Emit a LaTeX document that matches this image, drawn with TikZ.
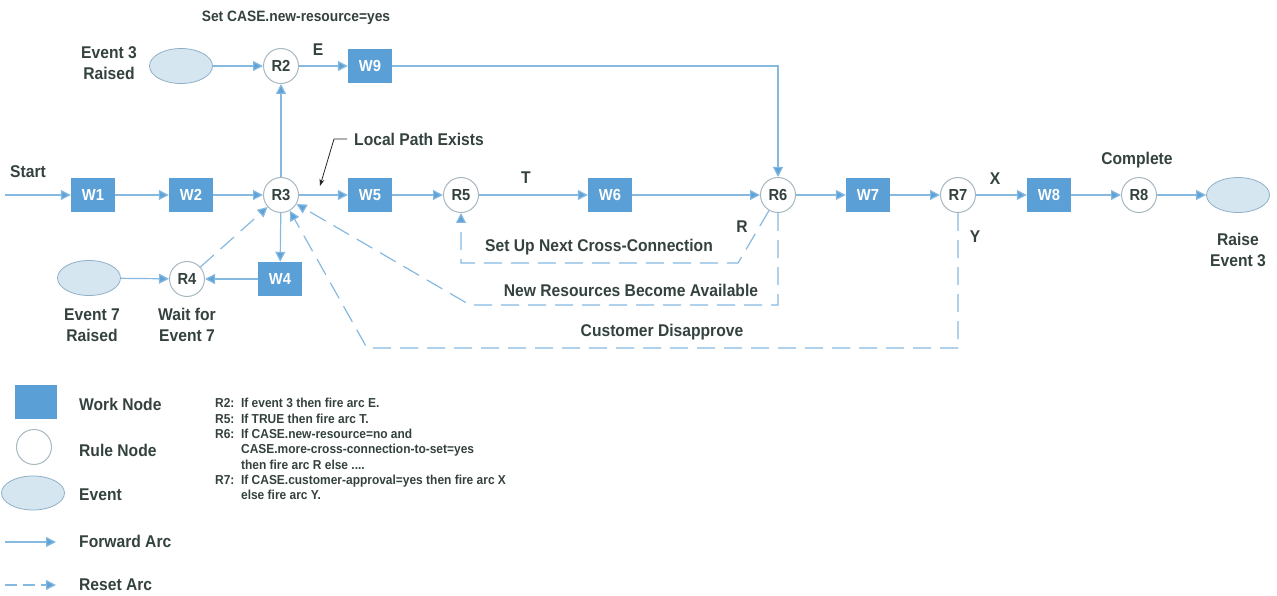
\documentclass[tikz,border=0pt]{standalone}
\usepackage{fontspec}
\setmainfont[FakeStretch=0.92]{Liberation Sans}
\usetikzlibrary{shapes.geometric,arrows.meta}
\definecolor{wblue}{HTML}{5A9FD6}
\definecolor{lblue}{HTML}{86B9E0}
\definecolor{ablue}{HTML}{5FA2D8}
\definecolor{rgray}{HTML}{A8B8C0}
\definecolor{efill}{HTML}{D5E6F1}
\definecolor{edraw}{HTML}{8FB0C6}
\definecolor{txt}{HTML}{34423F}
\tikzset{
  work/.style={rectangle, fill=wblue, minimum width=44pt, minimum height=34pt, inner sep=0pt, text=white, font=\fontsize{16}{18}\selectfont\bfseries},
  rule/.style={circle, draw=rgray, line width=1pt, fill=white, minimum size=35pt, inner sep=0pt, text=txt, font=\fontsize{16}{18}\selectfont\bfseries},
  event/.style={ellipse, fill=efill, draw=edraw, line width=0.8pt, minimum width=63pt, minimum height=35pt, inner sep=0pt},
  lbl/.style={text=txt, font=\fontsize{17}{21}\selectfont\bfseries, inner sep=0pt},
  fwd/.style={draw=lblue, line width=1.2pt, -{Triangle[length=10pt,width=10pt,fill=ablue]}},
  reset/.style={draw=lblue, line width=1.2pt, dash pattern=on 18pt off 9pt, -{Triangle[length=10pt,width=10pt,fill=ablue]}},
}
\begin{document}
\begin{tikzpicture}[x=1pt,y=-1pt]
\useasboundingbox (0,0) rectangle (1277,596);
% main row
\coordinate (st) at (5,195);
\node[work] (w1) at (93,195) {W1};
\node[work] (w2) at (191,195) {W2};
\node[rule] (r3) at (281,195) {R3};
\node[work] (w5) at (370,195) {W5};
\node[rule] (r5) at (461,195) {R5};
\node[work] (w6) at (610,195) {W6};
\node[rule] (r6) at (778,195) {R6};
\node[work] (w7) at (868,195) {W7};
\node[rule] (r7) at (958,195) {R7};
\node[work] (w8) at (1049,195) {W8};
\node[rule] (r8) at (1139,195) {R8};
\node[event] (ev3o) at (1238,195) {};
% top row
\node[event] (ev3) at (181,66) {};
\node[rule] (r2) at (281,66) {R2};
\node[work] (w9) at (370,66) {W9};
% bottom row
\node[event] (ev7) at (89,278) {};
\node[rule] (r4) at (187,279) {R4};
\node[work] (w4) at (280,279) {W4};
% labels
\node[lbl] (lstart) at (28,172) {Start};
\node[lbl, align=center] (lev3) at (109,63) {Event 3\\Raised};
\node[lbl, font=\fontsize{15}{17}\selectfont\bfseries] (lset) at (296,18) {Set CASE.new-resource=yes};
\node[lbl] (lE) at (318,50) {E};
\node[lbl, anchor=west] (llp) at (354,139) {Local Path Exists};
\node[lbl] (lT) at (526,178) {T};
\node[lbl] (lR) at (742,227) {R};
\node[lbl] (lsu) at (599,247) {Set Up Next Cross-Connection};
\node[lbl] (lnr) at (631,290) {New Resources Become Available};
\node[lbl] (lcd) at (662,332) {Customer Disapprove};
\node[lbl] (lX) at (995,179) {X};
\node[lbl] (lY) at (975,237) {Y};
\node[lbl] (lcomp) at (1137,160) {Complete};
\node[lbl, align=center] (lraise) at (1238,250) {Raise\\Event 3};
\node[lbl, align=center] (lev7) at (92,325) {Event 7\\Raised};
\node[lbl, align=center] (lwait) at (187,325) {Wait for\\Event 7};
% forward arcs
\draw[fwd] (st) -- (w1);
\draw[fwd] (w1) -- (w2);
\draw[fwd] (w2) -- (r3);
\draw[fwd] (r3) -- (w5);
\draw[fwd] (w5) -- (r5);
\draw[fwd] (r5) -- (w6);
\draw[fwd] (w6) -- (r6);
\draw[fwd] (r6) -- (w7);
\draw[fwd] (w7) -- (r7);
\draw[fwd] (r7) -- (w8);
\draw[fwd] (w8) -- (r8);
\draw[fwd] (r8) -- (ev3o);
\draw[fwd] (ev3) -- (r2);
\draw[fwd] (r2) -- (w9);
\draw[fwd] (w9) -| (r6);
\draw[fwd] (r3) -- (r2);
\draw[fwd] (r3) -- (w4);
\draw[fwd] (w4) -- (r4);
\draw[fwd] (ev7) -- (r4);
% reset arcs
\draw[reset] (r4) -- (r3);
\draw[reset] (r6.-120) -- (738,263) -| (r5);
\draw[reset] (r6) -- (778,305) -- (470,305) -- (r3);
\draw[reset] (r7) -- (958,348) -- (367,348) -- (r3);
% local path pointer
\coordinate (lpe) at (320,186);
\draw[black!85, line width=0.8pt, -{Stealth[length=7pt,width=5pt]}] (llp.west) ++(-7,0) -- ++(-13,0) -- (lpe);
% legend
\node[work, minimum width=42pt, minimum height=34pt] (lgw) at (36,402) {};
\node[rule, minimum size=35pt] (lgr) at (34,447) {};
\node[event, minimum width=63pt, minimum height=34pt] (lge) at (33,493) {};
\coordinate (lgf1) at (5,542); \coordinate (lgf2) at (56,542);
\coordinate (lgr1) at (5,585); \coordinate (lgr2) at (56,585);
\draw[fwd] (lgf1) -- (lgf2);
\draw[reset, dash pattern=on 12pt off 6pt] (lgr1) -- (lgr2);
\node[lbl, anchor=west] (tw) at (79,404) {Work Node};
\node[lbl, anchor=west] (tr) at (79,450) {Rule Node};
\node[lbl, anchor=west] (te) at (79,495) {Event};
\node[lbl, anchor=west] (tf) at (79,541) {Forward Arc};
\node[lbl, anchor=west] (tres) at (79,585) {Reset Arc};
\node[text=txt, anchor=north west, inner sep=0pt, font=\fontsize{13}{15.3}\selectfont\bfseries] (rules) at (215,397) {%
\renewcommand{\arraystretch}{1}%
\begin{tabular}{@{}l@{\ \ }l@{}}
R2: & If event 3 then fire arc E.\\
R5: & If TRUE then fire arc T.\\
R6: & If CASE.new-resource=no and\\
    & CASE.more-cross-connection-to-set=yes\\
    & then fire arc R else ....\\
R7: & If CASE.customer-approval=yes then fire arc X\\
    & else fire arc Y.
\end{tabular}};
\end{tikzpicture}
\end{document}
